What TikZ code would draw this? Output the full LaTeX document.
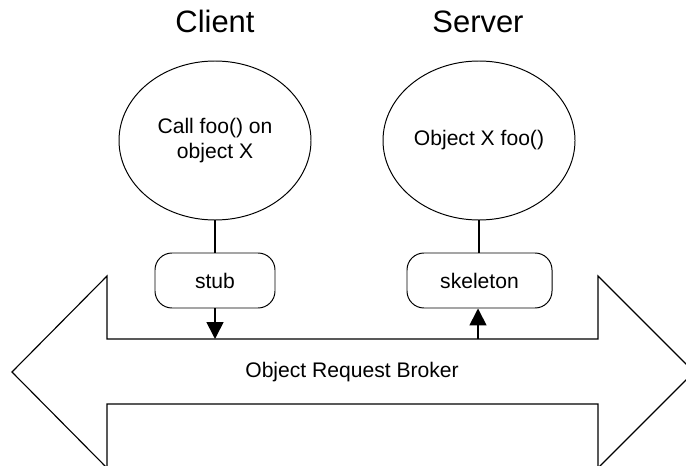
\documentclass[tikz,border=0pt]{standalone}
\usepackage{fontspec}
\setmainfont{Liberation Sans}
\usetikzlibrary{positioning, shapes.geometric, arrows.meta}
\tikzset{
  proc/.style={draw, ellipse, line width=0.7pt, minimum width=4.8cm, minimum height=3.975cm, inner sep=0pt, align=center, font=\fontsize{15}{17.8}\selectfont},
  stubbox/.style={draw, rounded corners=0.425cm, line width=0.7pt, minimum height=1.375cm, inner sep=0pt, font=\fontsize{15}{17.8}\selectfont},
  title/.style={anchor=base, font=\fontsize{22}{26}\selectfont},
  link/.style={line width=1.2pt},
  flow/.style={line width=1.2pt, -{Triangle[length=12pt, width=12pt]}}
}

\begin{document}
\begin{tikzpicture}
\useasboundingbox (0,0) rectangle (17.15,11.625);
\clip (0,0) rectangle (17.15,11.625);
\draw[line width=0.8pt] (0.3,2.325) -- (2.675,4.725) -- (2.675,3.15) -- (14.95,3.15) -- (14.95,4.725) -- (17.35,2.325) -- (14.95,-0.075) -- (14.95,1.525) -- (2.675,1.525) -- (2.675,-0.075) -- cycle;
\node[title] (client) at (5.375, 10.8) {Client};
\node[title] (server) at (11.95, 10.8) {Server};
\node[proc] (call) at (5.375, 8.1125) {Call foo() on\\object X};
\node[proc] (obj) at (11.975, 8.1125) {Object X foo()};
\node[stubbox, minimum width=3cm] (stub) at (5.375, 4.6125) {stub};
\node[stubbox, minimum width=3.625cm] (skel) at (11.9875, 4.6125) {skeleton};
\node[font=\fontsize{15}{17.8}\selectfont] (orb) at (8.8, 2.325) {Object Request Broker};
\coordinate (in) at (5.375, 3.15);
\coordinate (out) at (11.95, 3.15);
\draw[link] (call) -- (stub);
\draw[link] (obj.south) -- (obj.south |- skel.north);
\draw[flow] (stub) -- (in);
\draw[flow] (out) -- (out |- skel.south);
\end{tikzpicture}
\end{document}
